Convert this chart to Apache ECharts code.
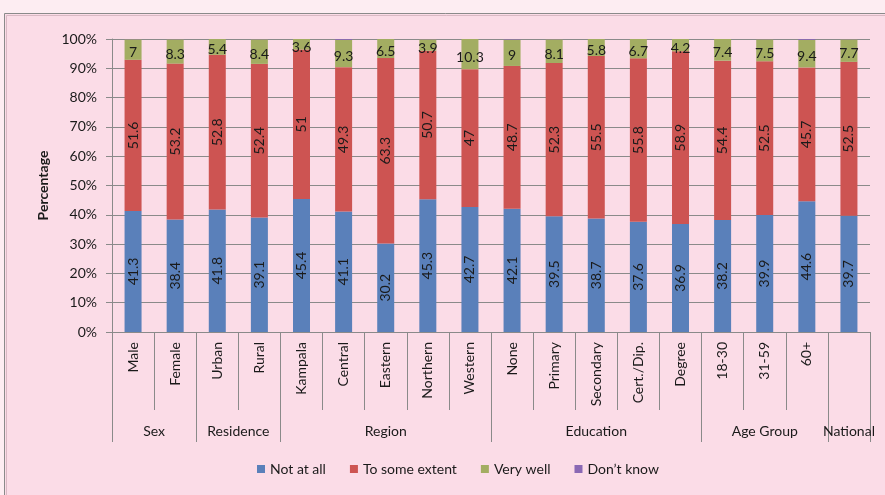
<!DOCTYPE html>
<html><head><meta charset="utf-8">
<script src="https://cdn.jsdelivr.net/npm/echarts@6/dist/echarts.min.js"></script>
<style>html,body{margin:0;padding:0;background:#FDEDF2;}#c{width:885px;height:495px;}</style>
</head><body><div id="c"></div>
<script>
var categories = ['Male','Female','Urban','Rural','Kampala','Central','Eastern','Northern','Western','None','Primary','Secondary','Cert./Dip.','Degree','18-30','31-59','60+',''];
var groupNames = ['Sex','Residence','Region','Education','Age Group','National'];
var groupSizes = [2,2,5,5,3,1];
var notAtAll = [41.3,38.4,41.8,39.1,45.4,41.1,30.2,45.3,42.7,42.1,39.5,38.7,37.6,36.9,38.2,39.9,44.6,39.7];
var toSomeExtent = [51.6,53.2,52.8,52.4,51,49.3,63.3,50.7,47,48.7,52.3,55.5,55.8,58.9,54.4,52.5,45.7,52.5];
var veryWell = [7,8.3,5.4,8.4,3.6,9.3,6.5,3.9,10.3,9,8.1,5.8,6.7,4.2,7.4,7.5,9.4,7.7];
var dontKnow = [0.1,0.1,0,0.1,0,0.3,0,0.1,0,0.2,0.1,0,0,0,0,0.1,0.3,0.1];
var yTicks = ['0%','10%','20%','30%','40%','50%','60%','70%','80%','90%','100%'];

// Build half-unit group axis (boundaryGap false, 2*N+1 points)
var n = categories.length;
var half = [];
for (var i = 0; i <= 2 * n; i++) half.push('');
var boundaries = {0: true};
var pos = 0;
groupSizes.forEach(function (s, gi) {
  half[2 * pos + s] = groupNames[gi];
  pos += s;
  boundaries[2 * pos] = true;
});

var FONT = 'Lato';
var FS = 14;
var chart = echarts.init(document.getElementById('c'), null, {renderer: 'canvas'});
function lbl(rot, off) {
  return {show: true, position: 'inside', rotate: rot, offset: off || [0, 0], color: '#1a1a1a', fontSize: FS, fontFamily: FONT,
    formatter: function (p) { return String(p.value); }};
}
chart.setOption({
  backgroundColor: '#FDEDF2',
  animation: false,
  textStyle: {fontFamily: FONT},
  graphic: [
    {type: 'rect', z: -10, shape: {x: 4.5, y: 13.5, width: 900, height: 500},
     style: {fill: '#FBDCE7', stroke: '#8a8a8a', lineWidth: 1}},
    {type: 'rect', z: -9, shape: {x: 6.5, y: 15.5, width: 900, height: 500},
     style: {fill: 'none', stroke: '#d9b9c4', lineWidth: 1}}
  ],
  grid: {left: 112, right: 15, top: 39, bottom: 163, containLabel: false},
  legend: {
    bottom: 14, left: 252, icon: 'rect', itemWidth: 8, itemHeight: 8, itemGap: 24,
    textStyle: {fontSize: FS, color: '#1a1a1a', fontFamily: FONT},
    data: ['Not at all', 'To some extent', 'Very well', 'Don\u2019t know']
  },
  xAxis: [
    {type: 'category', data: categories, position: 'bottom', boundaryGap: true,
     axisLine: {lineStyle: {color: '#8a8a8a'}},
     axisTick: {show: true, interval: 0, length: 78, lineStyle: {color: '#8a8a8a'}},
     axisLabel: {interval: 0, rotate: 90, margin: 10, fontSize: FS, color: '#1a1a1a', fontFamily: FONT}},
    {type: 'category', data: half, position: 'bottom', boundaryGap: false,
     axisLine: {show: false},
     axisTick: {show: true, length: 110, lineStyle: {color: '#8a8a8a'},
       interval: function (idx) { return !!boundaries[idx]; }},
     axisLabel: {interval: 0, margin: 92, fontSize: FS, color: '#1a1a1a', fontFamily: FONT}}
  ],
  yAxis: {
    type: 'value', min: 0, max: 100, interval: 10,
    name: 'Percentage', nameLocation: 'middle', nameGap: 56, nameRotate: 90,
    nameTextStyle: {fontWeight: 'bold', fontSize: 14, color: '#1a1a1a', fontFamily: FONT},
    axisLine: {show: true, lineStyle: {color: '#8a8a8a'}},
    axisTick: {show: true, length: 6, lineStyle: {color: '#8a8a8a'}},
    axisLabel: {fontSize: FS, color: '#1a1a1a', margin: 15, fontFamily: FONT,
      formatter: function (v) { return yTicks[Math.round(v / 10)]; }},
    splitLine: {show: true, lineStyle: {color: '#8a8a8a', width: 1}}
  },
  series: [
    {name: 'Not at all', type: 'bar', stack: 's', barWidth: 17, data: notAtAll, itemStyle: {color: '#5A80BA'}, label: lbl(90)},
    {name: 'To some extent', type: 'bar', stack: 's', barWidth: 17, data: toSomeExtent, itemStyle: {color: '#CD5452'}, label: lbl(90)},
    {name: 'Very well', type: 'bar', stack: 's', barWidth: 17, data: veryWell, itemStyle: {color: '#A3AD62'}, label: lbl(0, [0, 3])},
    {name: 'Don\u2019t know', type: 'bar', stack: 's', barWidth: 17, data: dontKnow, itemStyle: {color: '#8A68B4'}}
  ]
});
</script></body></html>
